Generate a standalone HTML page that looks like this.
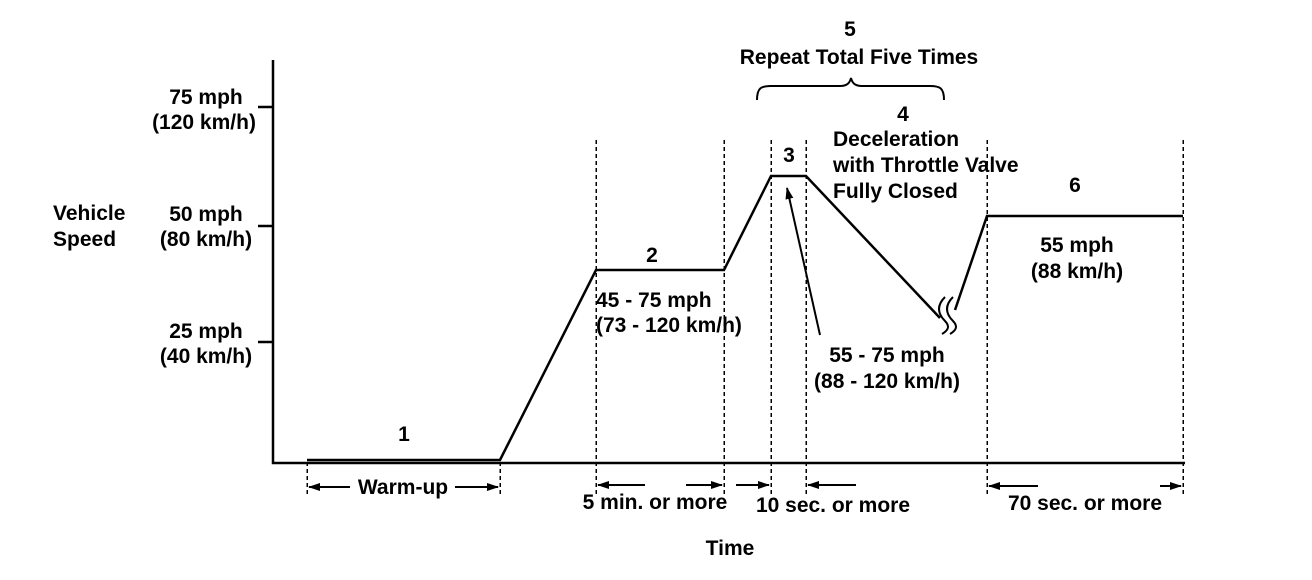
<!DOCTYPE html>
<html><head><style>body{margin:0;background:#fff}svg{display:block}text{font-family:"Liberation Sans",Arial,sans-serif;font-weight:bold;font-size:21px;fill:#000}</style></head>
<body>
<svg width="1312" height="580" viewBox="0 0 1312 580">
<defs><marker id="a" markerWidth="12" markerHeight="8" refX="11" refY="4" orient="auto" markerUnits="userSpaceOnUse"><path d="M0,0L12,4L0,8z"/></marker></defs>
<g stroke="#000" stroke-width="2.5" fill="none">
<path d="M273,60V463H1185"/>
<path d="M258,107H273M258,226H273M258,342H273"/>
<path d="M307,460H500L596,270H724L771,176H806L940,318"/>
<path d="M955,310L987,216H1183"/>
<path d="M945,297c-8,8,-8,16,0,24c6,6,2,10,-3,13M953,297c-8,8,-8,16,0,24c6,6,2,10,-3,13" stroke-width="2"/>
<path d="M757,100c0,-12,4,-14,14,-14H840c8,0,10,-4,11,-8c1,4,3,8,11,8H930c10,0,14,2,14,14" stroke-width="2"/>
</g>
<g stroke="#000" stroke-width="1.5" stroke-dasharray="4,3" shape-rendering="crispEdges">
<path d="M307,462V495M500,462V495M596,140V495M724,140V495M771,140V495M806,140V495M987,140V495M1183,140V495"/>
</g>
<g stroke="#000" stroke-width="2" marker-end="url(#a)">
<path d="M350,487H309"/><path d="M455,487H498"/>
<path d="M645,485H598"/><path d="M686,485H722"/><path d="M736,485H769"/>
<path d="M856,485H808"/><path d="M1038,486H989"/><path d="M1160,486H1181"/>
<path d="M820,335L787,188"/>
</g>
<text x="53" y="220">Vehicle</text><text x="53" y="246">Speed</text>
<text x="206" y="104" text-anchor="middle">75 mph</text><text x="204" y="129" text-anchor="middle">(120 km/h)</text>
<text x="206" y="221" text-anchor="middle">50 mph</text><text x="206" y="246" text-anchor="middle">(80 km/h)</text>
<text x="206" y="338" text-anchor="middle">25 mph</text><text x="206" y="363" text-anchor="middle">(40 km/h)</text>
<text x="404" y="441" text-anchor="middle">1</text>
<text x="403" y="494" text-anchor="middle">Warm-up</text>
<text x="652" y="262" text-anchor="middle">2</text>
<text x="596" y="307">45 - 75 mph</text><text x="596" y="332">(73 - 120 km/h)</text>
<text x="789" y="162" text-anchor="middle">3</text>
<text x="850" y="36" text-anchor="middle">5</text>
<text x="859" y="64" text-anchor="middle">Repeat Total Five Times</text>
<text x="903" y="121" text-anchor="middle">4</text>
<text x="833" y="146">Deceleration</text><text x="833" y="172">with Throttle Valve</text><text x="833" y="198">Fully Closed</text>
<text x="1075" y="192" text-anchor="middle">6</text>
<text x="1077" y="252" text-anchor="middle">55 mph</text><text x="1077" y="278" text-anchor="middle">(88 km/h)</text>
<text x="887" y="362" text-anchor="middle">55 - 75 mph</text><text x="887" y="388" text-anchor="middle">(88 - 120 km/h)</text>
<text x="655" y="509" text-anchor="middle">5 min. or more</text>
<text x="833" y="512" text-anchor="middle">10 sec. or more</text>
<text x="1085" y="510" text-anchor="middle">70 sec. or more</text>
<text x="730" y="555" text-anchor="middle">Time</text>
</svg>
</body></html>
